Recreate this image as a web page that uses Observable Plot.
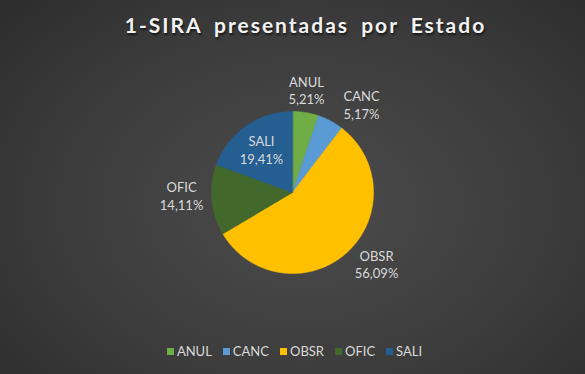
<!DOCTYPE html>
<html>
<head>
<meta charset="utf-8">
<script src="https://cdn.jsdelivr.net/npm/d3@7"></script>
<script src="https://cdn.jsdelivr.net/npm/@observablehq/plot@0.6"></script>
<style>
  html, body { margin: 0; padding: 0; background: #2a2a2a; }
  #chart {
    position: relative; width: 585px; height: 374px; overflow: hidden;
    background: radial-gradient(ellipse 75% 85% at 52% 55%, #4c4c4c 0%, #3c3c3c 55%, #2a2a2a 100%);
    font-family: Lato, "Open Sans", sans-serif;
  }
  #title {
    position: absolute; left: 0; top: 12px; width: 585px; padding-left: 26px; box-sizing: border-box;
    text-align: center; color: #f2f2f2; font-weight: bold; font-size: 21px; letter-spacing: 2px;
    word-spacing: 5px; text-shadow: 1px 2px 2px rgba(0,0,0,0.6);
  }
  #plot { position: absolute; left: 0; top: 0; }
  #legend {
    position: absolute; left: 0; top: 343px; width: 585px; display: flex; justify-content: center;
    gap: 11px; color: #d9d9d9; font-size: 13px; padding-left: 4px; box-sizing: border-box;
  }
  #legend span.item { display: flex; align-items: center; gap: 3px; }
  #legend span.sw { width: 7px; height: 7px; display: inline-block; }
</style>
</head>
<body>
<div id="chart">
  <div id="plot"></div>
  <div id="title"></div>
  <div id="legend"></div>
</div>
<script>
const title = "1-SIRA presentadas por Estado";
const categories = ["ANUL", "CANC", "OBSR", "OFIC", "SALI"];
const values = [5.21, 5.17, 56.09, 14.11, 19.41];
const valueLabels = ["5,21%", "5,17%", "56,09%", "14,11%", "19,41%"];
const colors = ["#70ad47", "#5b9bd5", "#ffc000", "#43682b", "#255e91"];

document.getElementById("title").textContent = title;

// pie geometry (clockwise from 12 o'clock)
const pie = d3.pie().sort(null).value(d => d.value);
const rows = categories.map((c, i) => ({cat: c, value: values[i], label: valueLabels[i]}));
const arcs = pie(rows);

const poly = [];
arcs.forEach(a => {
  poly.push({cat: a.data.cat, x: 0, y: 0});
  const n = Math.max(4, Math.ceil((a.endAngle - a.startAngle) / 0.01));
  for (let k = 0; k <= n; k++) {
    const t = a.startAngle + (a.endAngle - a.startAngle) * k / n;
    poly.push({cat: a.data.cat, x: Math.sin(t), y: Math.cos(t)});
  }
});

// label placement (best fit style): radius factor and angular shift from slice middle
const placement = {
  ANUL: {r: 1.28, da: -0.028},
  CANC: {r: 1.38, da: 0.176},
  OBSR: {r: 1.36, da: -0.141},
  OFIC: {r: 1.37, da: 0.066},
  SALI: {r: 0.655, da: -0.014}
};
const labelData = arcs.map(a => {
  const p = placement[a.data.cat];
  const m = (a.startAngle + a.endAngle) / 2 + p.da;
  return {x: p.r * Math.sin(m), y: p.r * Math.cos(m), text: a.data.cat + "\n" + a.data.label};
});

const cx = 292, cy = 192, R = 81;
const chart = Plot.plot({
  width: 585, height: 374, margin: 0,
  style: {background: "transparent", fontFamily: "Lato, 'Open Sans', sans-serif"},
  x: {domain: [-1, 1], range: [cx - R, cx + R], axis: null},
  y: {domain: [-1, 1], range: [cy + R, cy - R], axis: null},
  color: {domain: categories, range: colors},
  marks: [
    Plot.line(poly, {x: "x", y: "y", z: "cat", fill: "cat", stroke: "cat", strokeWidth: 0.6, curve: "linear-closed"}),
    Plot.text(labelData, {x: "x", y: "y", text: "text", fill: "#d9d9d9", fontSize: 13, lineHeight: 1.35})
  ]
});
document.getElementById("plot").appendChild(chart);

const legend = document.getElementById("legend");
categories.forEach((c, i) => {
  const item = document.createElement("span");
  item.className = "item";
  const sw = document.createElement("span");
  sw.className = "sw";
  sw.style.background = colors[i];
  const t = document.createElement("span");
  t.textContent = c;
  item.appendChild(sw);
  item.appendChild(t);
  legend.appendChild(item);
});
</script>
</body>
</html>
